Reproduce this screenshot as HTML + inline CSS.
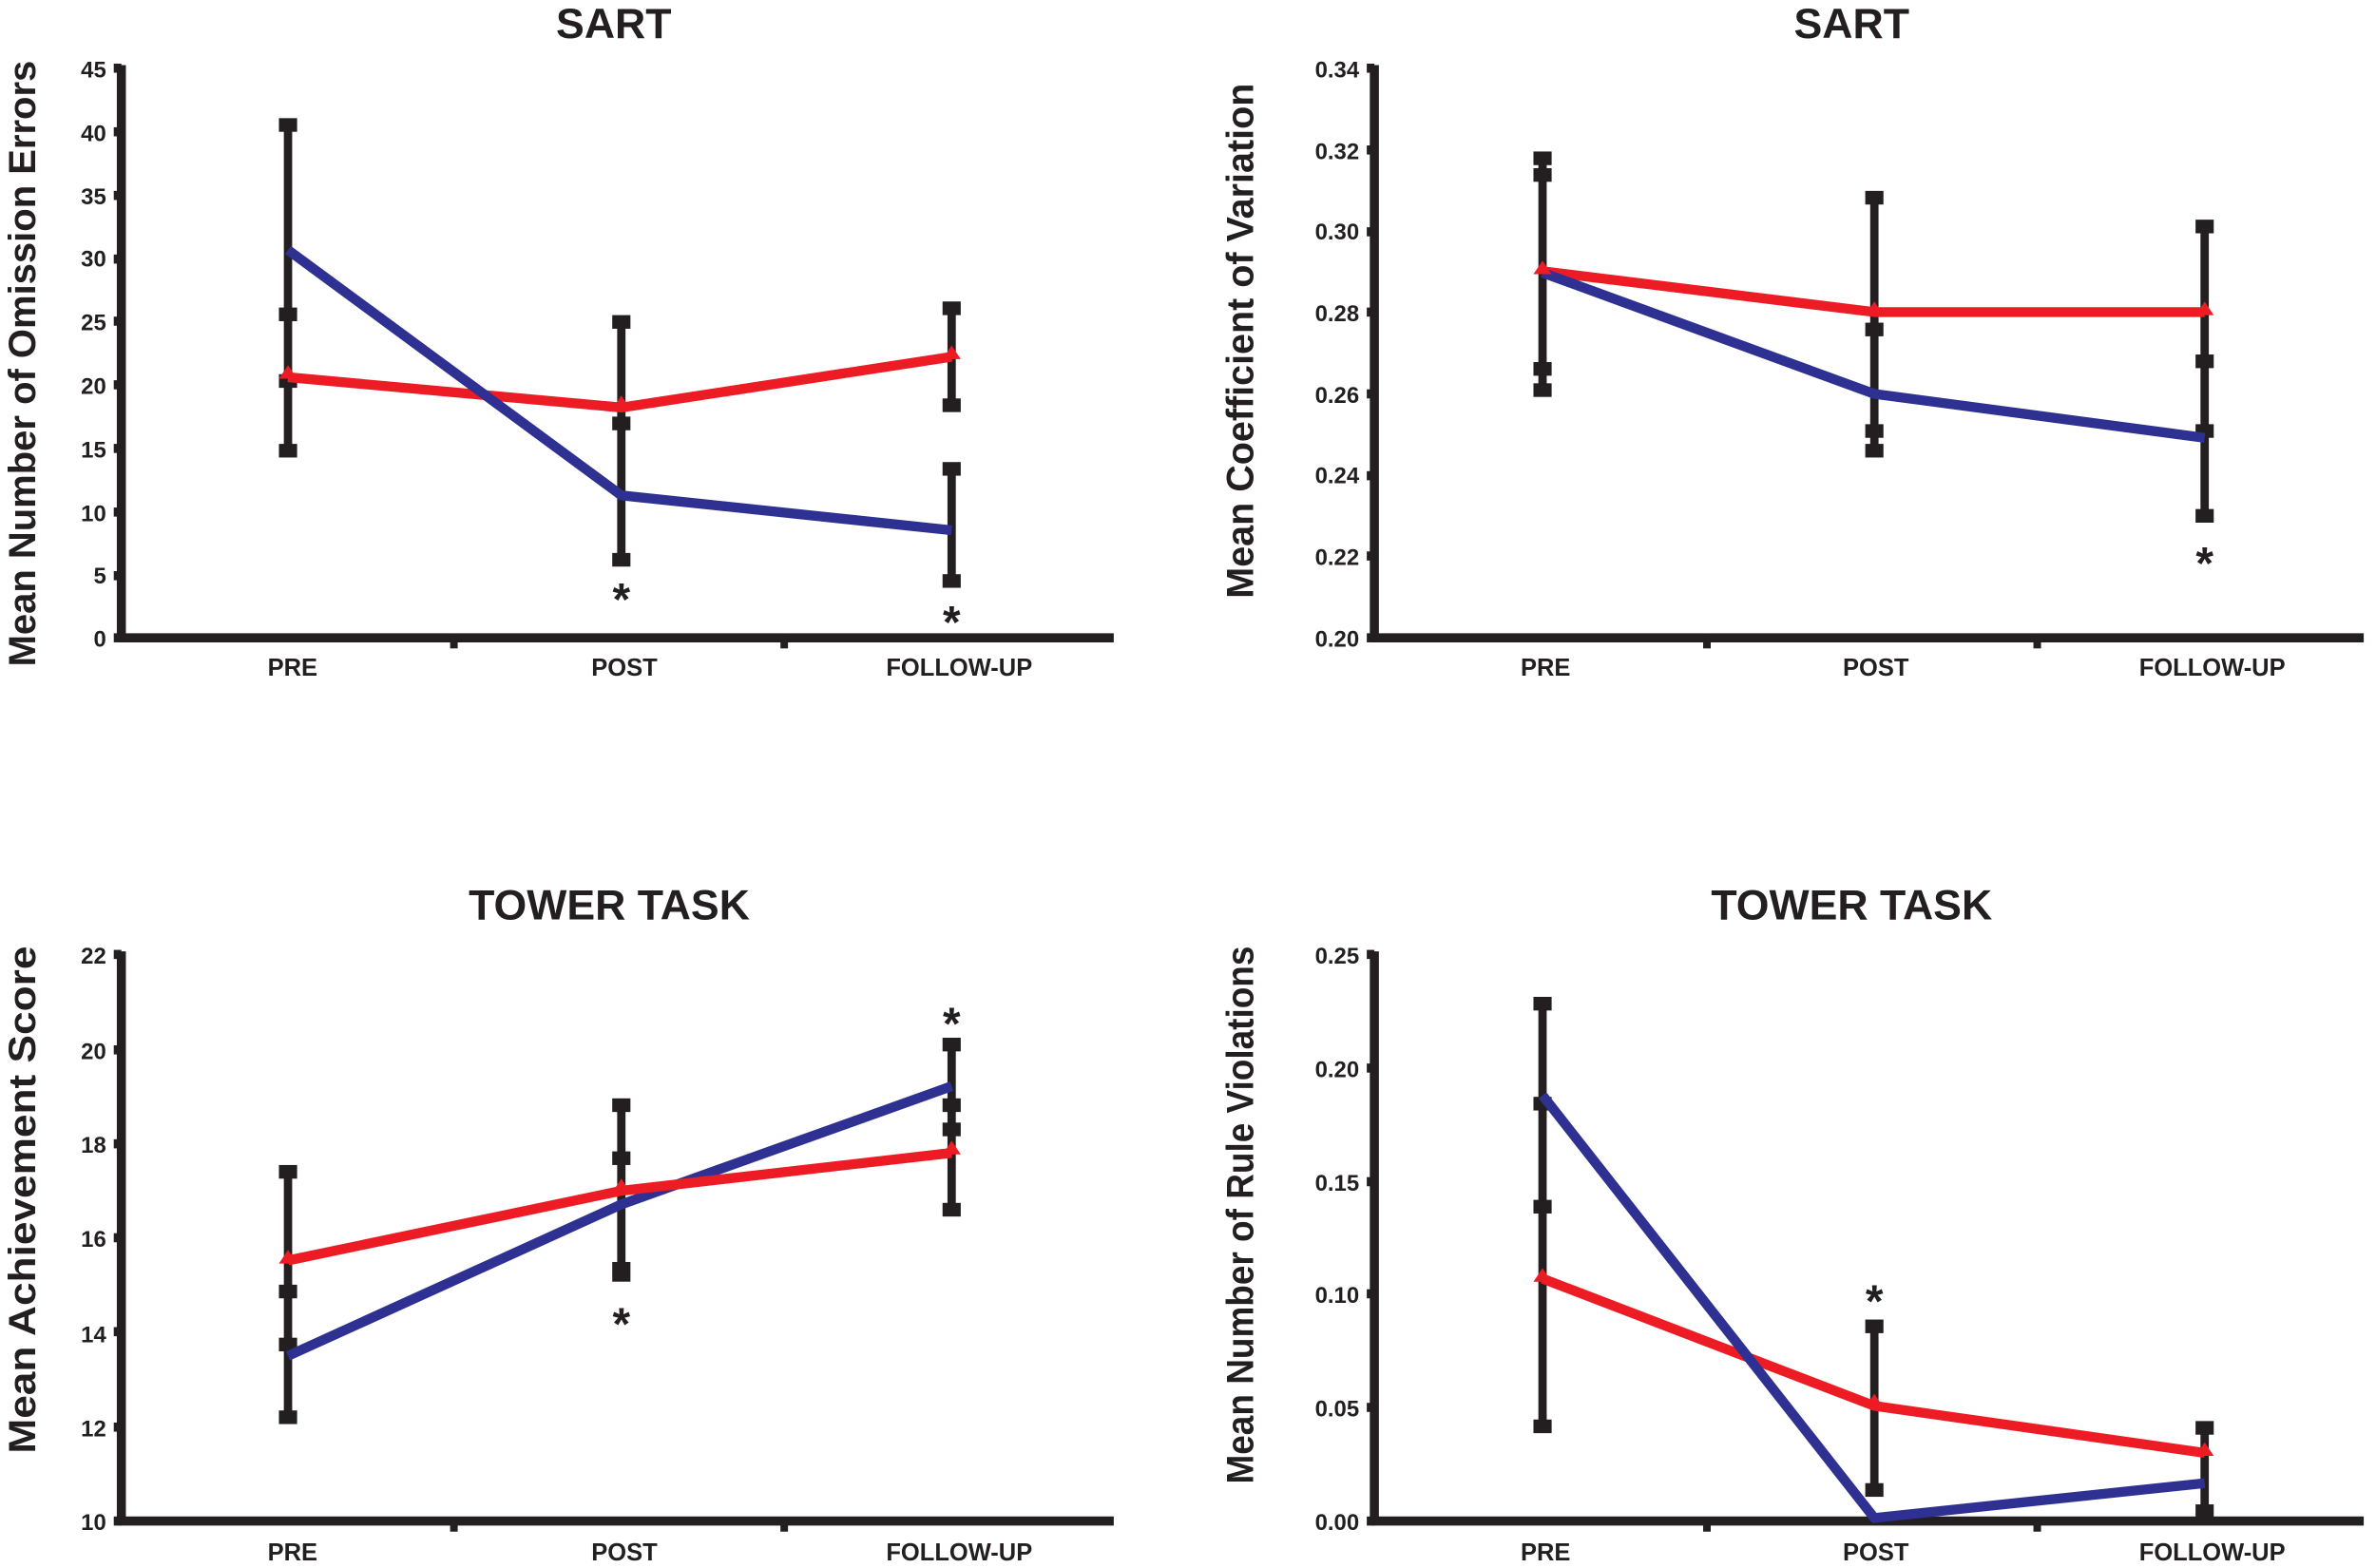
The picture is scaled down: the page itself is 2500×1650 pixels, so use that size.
<!DOCTYPE html>
<html><head><meta charset="utf-8"><style>
html,body{margin:0;padding:0;background:#fff;}
svg{display:block;}
text{font-family:"Liberation Sans",Arial,sans-serif;font-weight:bold;fill:#231f20;}
.tk{font-size:15px;text-anchor:end;}
.cat{font-size:16px;text-anchor:middle;}
.ttl{font-size:28px;text-anchor:middle;}
.yl{font-size:25px;text-anchor:middle;}
.ast{font-size:30px;text-anchor:middle;}
.ax{stroke:#231f20;stroke-width:6;fill:none;}
.eb{stroke:#231f20;stroke-width:5.5;}
.cap{fill:#231f20;}
.bl{stroke:#2e3192;stroke-width:6.5;fill:none;stroke-linejoin:round;}
.rd{stroke:#ed1c24;stroke-width:6.5;fill:none;stroke-linejoin:round;}
</style></head><body>
<svg width="2500" height="1650" viewBox="0 0 1568 1035" xmlns="http://www.w3.org/2000/svg">
<!-- ============ TOP LEFT ============ -->
<text class="ttl" x="405" y="25">SART</text>
<text class="yl" transform="translate(23,240) rotate(-90)" textLength="400" lengthAdjust="spacingAndGlyphs">Mean Number of Omission Errors</text>
<g>
<line class="ax" x1="80" y1="43" x2="80" y2="421"/>
<line class="ax" x1="78" y1="421" x2="735" y2="421"/>
<rect class="cap" x="297" y="421" width="5" height="7"/><rect class="cap" x="515" y="421" width="5" height="7"/>
<g fill="#231f20">
<rect x="75" y="418" width="5" height="6"/><rect x="75" y="377" width="5" height="6"/><rect x="75" y="335" width="5" height="6"/><rect x="75" y="293" width="5" height="6"/><rect x="75" y="251" width="5" height="6"/><rect x="75" y="209" width="5" height="6"/><rect x="75" y="168" width="5" height="6"/><rect x="75" y="126" width="5" height="6"/><rect x="75" y="84" width="5" height="6"/><rect x="75" y="42" width="5" height="6"/>
</g>
<text class="tk" x="70" y="427">0</text><text class="tk" x="70" y="385">5</text><text class="tk" x="70" y="344">10</text><text class="tk" x="70" y="302">15</text><text class="tk" x="70" y="260">20</text><text class="tk" x="70" y="218">25</text><text class="tk" x="70" y="176">30</text><text class="tk" x="70" y="135">35</text><text class="tk" x="70" y="93">40</text><text class="tk" x="70" y="51">45</text>
<text class="cat" x="193" y="446">PRE</text><text class="cat" x="412" y="446">POST</text><text class="cat" x="633" y="446">FOLLOW-UP</text>
<line class="eb" x1="190" y1="83" x2="190" y2="297"/>
<rect class="cap" x="184" y="78" width="12" height="9"/><rect class="cap" x="184" y="293" width="12" height="9"/><rect class="cap" x="184" y="203" width="12" height="9"/><rect class="cap" x="184" y="247" width="12" height="9"/>
<line class="eb" x1="410" y1="213" x2="410" y2="369"/>
<rect class="cap" x="404" y="208" width="12" height="9"/><rect class="cap" x="404" y="365" width="12" height="9"/><rect class="cap" x="404" y="275" width="12" height="9"/>
<line class="eb" x1="628" y1="204" x2="628" y2="267"/>
<rect class="cap" x="622" y="199" width="12" height="9"/><rect class="cap" x="622" y="263" width="12" height="9"/>
<line class="eb" x1="628" y1="310" x2="628" y2="383"/>
<rect class="cap" x="622" y="305" width="12" height="9"/><rect class="cap" x="622" y="379" width="12" height="9"/>
<polyline class="rd" points="190,249 410,269 628,235.5"/>
<polyline class="bl" points="190,165 410,327 628,350"/>
<path d="M190,241 l6,9 h-12z M410,261 l6,9 h-12z M628,228 l6,9 h-12z" fill="#ed1c24"/>
<text class="ast" x="410" y="406">*</text><text class="ast" x="628" y="421">*</text>
</g>
<!-- ============ TOP RIGHT ============ -->
<text class="ttl" x="1222" y="25">SART</text>
<text class="yl" transform="translate(827,225) rotate(-90)" textLength="340" lengthAdjust="spacingAndGlyphs">Mean Coefficient of Variation</text>
<g>
<line class="ax" x1="907" y1="43" x2="907" y2="421"/>
<line class="ax" x1="905" y1="421" x2="1560" y2="421"/>
<rect class="cap" x="1124" y="421" width="5" height="7"/><rect class="cap" x="1342" y="421" width="5" height="7"/>
<g fill="#231f20">
<rect x="902" y="418" width="5" height="6"/><rect x="902" y="364" width="5" height="6"/><rect x="902" y="311" width="5" height="6"/><rect x="902" y="257" width="5" height="6"/><rect x="902" y="203" width="5" height="6"/><rect x="902" y="150" width="5" height="6"/><rect x="902" y="96" width="5" height="6"/><rect x="902" y="42" width="5" height="6"/>
</g>
<text class="tk" x="897" y="427">0.20</text><text class="tk" x="897" y="373">0.22</text><text class="tk" x="897" y="319">0.24</text><text class="tk" x="897" y="266">0.26</text><text class="tk" x="897" y="212">0.28</text><text class="tk" x="897" y="158">0.30</text><text class="tk" x="897" y="105">0.32</text><text class="tk" x="897" y="51">0.34</text>
<text class="cat" x="1020" y="446">PRE</text><text class="cat" x="1238" y="446">POST</text><text class="cat" x="1460" y="446">FOLLOW-UP</text>
<line class="eb" x1="1018" y1="104" x2="1018" y2="257"/>
<rect class="cap" x="1012" y="100" width="12" height="9"/><rect class="cap" x="1012" y="111" width="12" height="9"/><rect class="cap" x="1012" y="239" width="12" height="9"/><rect class="cap" x="1012" y="253" width="12" height="9"/>
<line class="eb" x1="1237" y1="131" x2="1237" y2="298"/>
<rect class="cap" x="1231" y="126" width="12" height="9"/><rect class="cap" x="1231" y="293" width="12" height="9"/><rect class="cap" x="1231" y="213" width="12" height="9"/><rect class="cap" x="1231" y="280" width="12" height="9"/>
<line class="eb" x1="1455" y1="150" x2="1455" y2="340"/>
<rect class="cap" x="1449" y="145" width="12" height="9"/><rect class="cap" x="1449" y="336" width="12" height="9"/><rect class="cap" x="1449" y="234" width="12" height="9"/><rect class="cap" x="1449" y="280" width="12" height="9"/>
<polyline class="rd" points="1018,179 1237,206 1455,206"/>
<polyline class="bl" points="1018,180 1237,260 1455,289"/>
<path d="M1018,172 l6,9 h-12z M1237,199 l6,9 h-12z M1455,199 l6,9 h-12z" fill="#ed1c24"/>
<text class="ast" x="1455" y="382">*</text>
</g>
<!-- ============ BOTTOM LEFT ============ -->
<text class="ttl" x="402" y="607">TOWER TASK</text>
<text class="yl" transform="translate(23,792) rotate(-90)" textLength="335" lengthAdjust="spacingAndGlyphs">Mean Achievement Score</text>
<g>
<line class="ax" x1="80" y1="628" x2="80" y2="1004"/>
<line class="ax" x1="78" y1="1004" x2="735" y2="1004"/>
<rect class="cap" x="297" y="1004" width="5" height="7"/><rect class="cap" x="515" y="1004" width="5" height="7"/>
<g fill="#231f20">
<rect x="75" y="1001" width="5" height="6"/><rect x="75" y="939" width="5" height="6"/><rect x="75" y="876" width="5" height="6"/><rect x="75" y="814" width="5" height="6"/><rect x="75" y="752" width="5" height="6"/><rect x="75" y="690" width="5" height="6"/><rect x="75" y="627" width="5" height="6"/>
</g>
<text class="tk" x="70" y="1010">10</text><text class="tk" x="70" y="948">12</text><text class="tk" x="70" y="886">14</text><text class="tk" x="70" y="823">16</text><text class="tk" x="70" y="761">18</text><text class="tk" x="70" y="699">20</text><text class="tk" x="70" y="636">22</text>
<text class="cat" x="193" y="1030">PRE</text><text class="cat" x="412" y="1030">POST</text><text class="cat" x="633" y="1030">FOLLOW-UP</text>
<line class="eb" x1="190" y1="773" x2="190" y2="935"/>
<rect class="cap" x="184" y="769" width="12" height="9"/><rect class="cap" x="184" y="931" width="12" height="9"/><rect class="cap" x="184" y="848" width="12" height="9"/><rect class="cap" x="184" y="883" width="12" height="9"/>
<line class="eb" x1="410" y1="730" x2="410" y2="842"/>
<rect class="cap" x="404" y="725" width="12" height="9"/><rect class="cap" x="404" y="760" width="12" height="9"/><rect class="cap" x="404" y="833" width="12" height="13"/>
<line class="eb" x1="628" y1="689" x2="628" y2="798"/>
<rect class="cap" x="622" y="685" width="12" height="9"/><rect class="cap" x="622" y="794" width="12" height="9"/><rect class="cap" x="622" y="725" width="12" height="9"/><rect class="cap" x="622" y="741" width="12" height="9"/>
<polyline class="bl" points="190,895 410,795 628,717"/>
<polyline class="rd" points="190,832 410,786 628,761"/>
<path d="M190,825 l6,9 h-12z M410,778 l6,9 h-12z M628,753 l6,9 h-12z" fill="#ed1c24"/>
<text class="ast" x="410" y="884">*</text><text class="ast" x="628" y="686">*</text>
</g>
<!-- ============ BOTTOM RIGHT ============ -->
<text class="ttl" x="1222" y="607">TOWER TASK</text>
<text class="yl" transform="translate(827,802) rotate(-90)" textLength="355" lengthAdjust="spacingAndGlyphs">Mean Number of Rule Violations</text>
<g>
<line class="ax" x1="907" y1="628" x2="907" y2="1004"/>
<line class="ax" x1="905" y1="1004" x2="1560" y2="1004"/>
<rect class="cap" x="1124" y="1004" width="5" height="7"/><rect class="cap" x="1342" y="1004" width="5" height="7"/>
<g fill="#231f20">
<rect x="902" y="1001" width="5" height="6"/><rect x="902" y="926" width="5" height="6"/><rect x="902" y="851" width="5" height="6"/><rect x="902" y="777" width="5" height="6"/><rect x="902" y="702" width="5" height="6"/><rect x="902" y="627" width="5" height="6"/>
</g>
<text class="tk" x="897" y="1010">0.00</text><text class="tk" x="897" y="935">0.05</text><text class="tk" x="897" y="860">0.10</text><text class="tk" x="897" y="786">0.15</text><text class="tk" x="897" y="711">0.20</text><text class="tk" x="897" y="636">0.25</text>
<text class="cat" x="1020" y="1030">PRE</text><text class="cat" x="1238" y="1030">POST</text><text class="cat" x="1460" y="1030">FOLLOW-UP</text>
<line class="eb" x1="1018" y1="663" x2="1018" y2="941"/>
<rect class="cap" x="1012" y="658" width="12" height="9"/><rect class="cap" x="1012" y="937" width="12" height="9"/><rect class="cap" x="1012" y="724" width="12" height="9"/><rect class="cap" x="1012" y="792" width="12" height="9"/>
<line class="eb" x1="1237" y1="875" x2="1237" y2="983"/>
<rect class="cap" x="1231" y="871" width="12" height="9"/><rect class="cap" x="1231" y="979" width="12" height="9"/>
<line class="eb" x1="1455" y1="943" x2="1455" y2="1000"/>
<rect class="cap" x="1449" y="938" width="12" height="9"/><rect class="cap" x="1449" y="993" width="12" height="9"/>
<polyline class="rd" points="1018,844 1237,928 1455,959"/>
<polyline class="bl" points="1018,723 1237,1002 1455,979"/>
<path d="M1018,837 l6,9 h-12z M1237,920 l6,9 h-12z M1455,952 l6,9 h-12z" fill="#ed1c24"/>
<text class="ast" x="1237" y="869">*</text>
</g>
</svg>
</body></html>
